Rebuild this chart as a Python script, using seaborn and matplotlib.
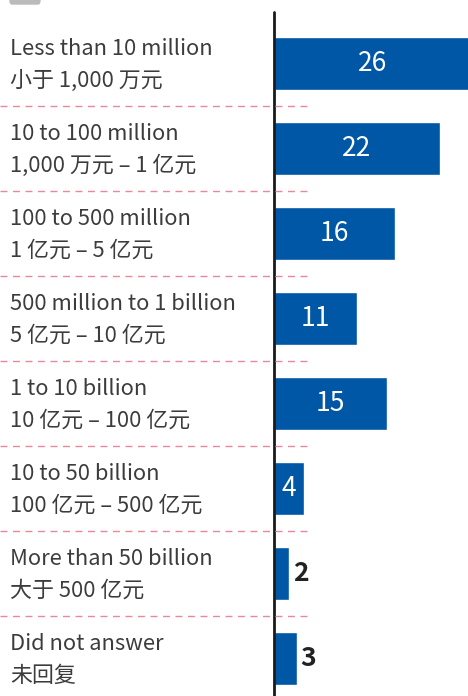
import pandas as pd
import matplotlib.pyplot as plt
import seaborn as sns
from matplotlib.patches import FancyBboxPatch

# --- Data ---
labels_en = ["Less than 10 million", "10 to 100 million", "100 to 500 million",
             "500 million to 1 billion", "1 to 10 billion", "10 to 50 billion",
             "More than 50 billion", "Did not answer"]
labels_cn = ["小于 1,000 万元", "1,000 万元 – 1 亿元", "1 亿元 – 5 亿元",
             "5 亿元 – 10 亿元", "10 亿元 – 100 亿元", "100 亿元 – 500 亿元",
             "大于 500 亿元", "未回复"]
values = [26, 22, 16, 11, 15, 4, 2, 3]

df = pd.DataFrame({"category": labels_en, "value": values})

sns.set_theme(style="white")
plt.rcParams['font.family'] = ['Noto Sans CJK SC', 'DejaVu Sans']

fig = plt.figure(figsize=(4.68, 6.96), dpi=100)
ax = fig.add_axes([0, 0, 1, 1])

sns.barplot(data=df, x="value", y="category", orient="h", color="#0057a6",
            saturation=1, width=0.63, ax=ax)

# layout: axis at x=273px, 7.55 px per unit; rows 85px apart
px = 7.55
ax.set_xlim(-274 / px, 194 / px)
ax.set_ylim((696 - 63.5) / 85, -63.5 / 85)
ax.axis("off")

# vertical baseline
ax.axvline(0, ymin=0, ymax=(696 - 12) / 696, color="#1a1a1a", lw=2)

# dashed separators
for i in range(len(values) - 1):
    ax.plot([-274 / px, 34 / px], [i + 0.5, i + 0.5], color="#e8899b",
            lw=1, ls=(0, (5, 4)))

# category labels and values
for i, (en, cn, v) in enumerate(zip(labels_en, labels_cn, values)):
    ax.text(-264 / px, i - 0.165, en, ha="left", va="center", fontsize=15.8,
            color="#3c3c3c", fontweight="light")
    ax.text(-264 / px, i + 0.205, cn, ha="left", va="center", fontsize=15.8,
            color="#3c3c3c", fontweight="light")
    if v >= 4:
        ax.text(v / 2, i, str(v), ha="center", va="center", fontsize=19,
                color="white")
    else:
        ax.text(v + 0.5, i, str(v), ha="left", va="center", fontsize=19,
                color="#222222", fontweight="bold")

# small grey tab at top-left (cut off legend key)
fig.patches.append(FancyBboxPatch((10 / 468, 1 - 4 / 696), 30 / 468, 8 / 696,
                                  boxstyle="round,pad=0,rounding_size=0.005",
                                  transform=fig.transFigure, color="#bbbbbb"))

fig.savefig("out.png", dpi=100)
